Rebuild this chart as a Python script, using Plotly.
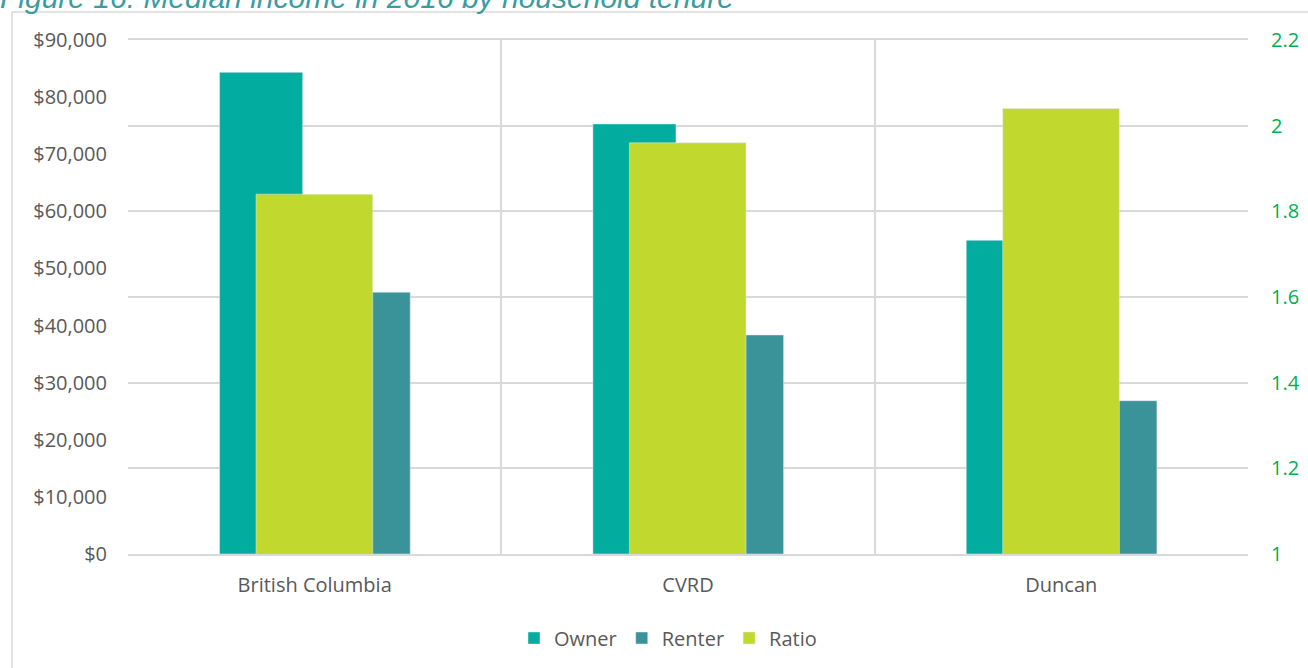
import plotly.graph_objects as go

categories = ["British Columbia", "CVRD", "Duncan"]
owner = [84333, 75290, 54930]
renter = [45848, 38350, 26840]
ratio = [1.84, 1.96, 2.04]

W, H = 1308, 668
L, R, T, B = 128, 60, 40, 114
pw, ph = W - L - R, H - T - B

def px(x):
    return (x - L) / pw

def py(y):
    return (T + ph - y) / ph

FONT = "Open Sans"
FS = 20
GREY = "#595959"
GRID = "#d9d9d9"

fig = go.Figure()
fig.add_trace(go.Bar(name="Owner", x=categories, y=owner, marker_color="#02ac9f",
                     width=0.2225, offset=-0.2547, yaxis="y"))
fig.add_trace(go.Bar(name="Renter", x=categories, y=renter, marker_color="#3a9399",
                     width=0.2225, offset=0.0335, yaxis="y"))
fig.add_trace(go.Bar(name="Ratio", x=categories, y=ratio, marker_color="#c1d82f",
                     width=0.3125, offset=-0.157, yaxis="y2"))

fig.update_layout(
    width=W, height=H,
    margin=dict(l=L, r=R, t=T, b=B, autoexpand=False),
    paper_bgcolor="white", plot_bgcolor="white",
    barmode="overlay",
    font=dict(family=FONT, size=FS, color=GREY),
    showlegend=True,
    legend=dict(orientation="h", x=px(668), y=py(638), xanchor="center", yanchor="middle",
                font=dict(family=FONT, size=FS, color=GREY), traceorder="normal"),
    xaxis=dict(type="category", tickson="boundaries", showgrid=True, gridcolor=GRID, gridwidth=1.5,
               ticks="", ticklabelstandoff=12, showline=True, linecolor=GRID, linewidth=1.5, mirror=True,
               range=[-0.5, 2.5], automargin=False, tickfont=dict(family=FONT, size=FS, color=GREY)),
    yaxis=dict(range=[0, 90000], dtick=10000, tickformat="$,.0f", showgrid=False, zeroline=False,
               ticks="", ticklabelstandoff=20, automargin=False,
               tickfont=dict(family=FONT, size=FS, color=GREY)),
    yaxis2=dict(range=[1, 2.2], dtick=0.2, overlaying="y", side="right", showgrid=True,
                gridcolor=GRID, gridwidth=1.5, zeroline=False, ticks="", ticklabelstandoff=22,
                automargin=False, tickfont=dict(family=FONT, size=FS, color="#00b050")),
)

# chart border (outer frame)
fig.add_shape(type="line", xref="paper", yref="paper", x0=px(12), x1=px(12), y0=py(12), y1=py(668),
              line=dict(color=GRID, width=1.5))
fig.add_shape(type="line", xref="paper", yref="paper", x0=px(12), x1=px(1308), y0=py(12), y1=py(12),
              line=dict(color=GRID, width=1.5))

fig.add_annotation(text="Figure 16: Median income in 2016 by household tenure", xref="paper", yref="paper",
                   x=px(-2), y=py(16), xanchor="left", yanchor="bottom", showarrow=False,
                   font=dict(family="Liberation Sans", size=30, color="#3a9ca3", style="italic"))

fig.write_html("out.html")
